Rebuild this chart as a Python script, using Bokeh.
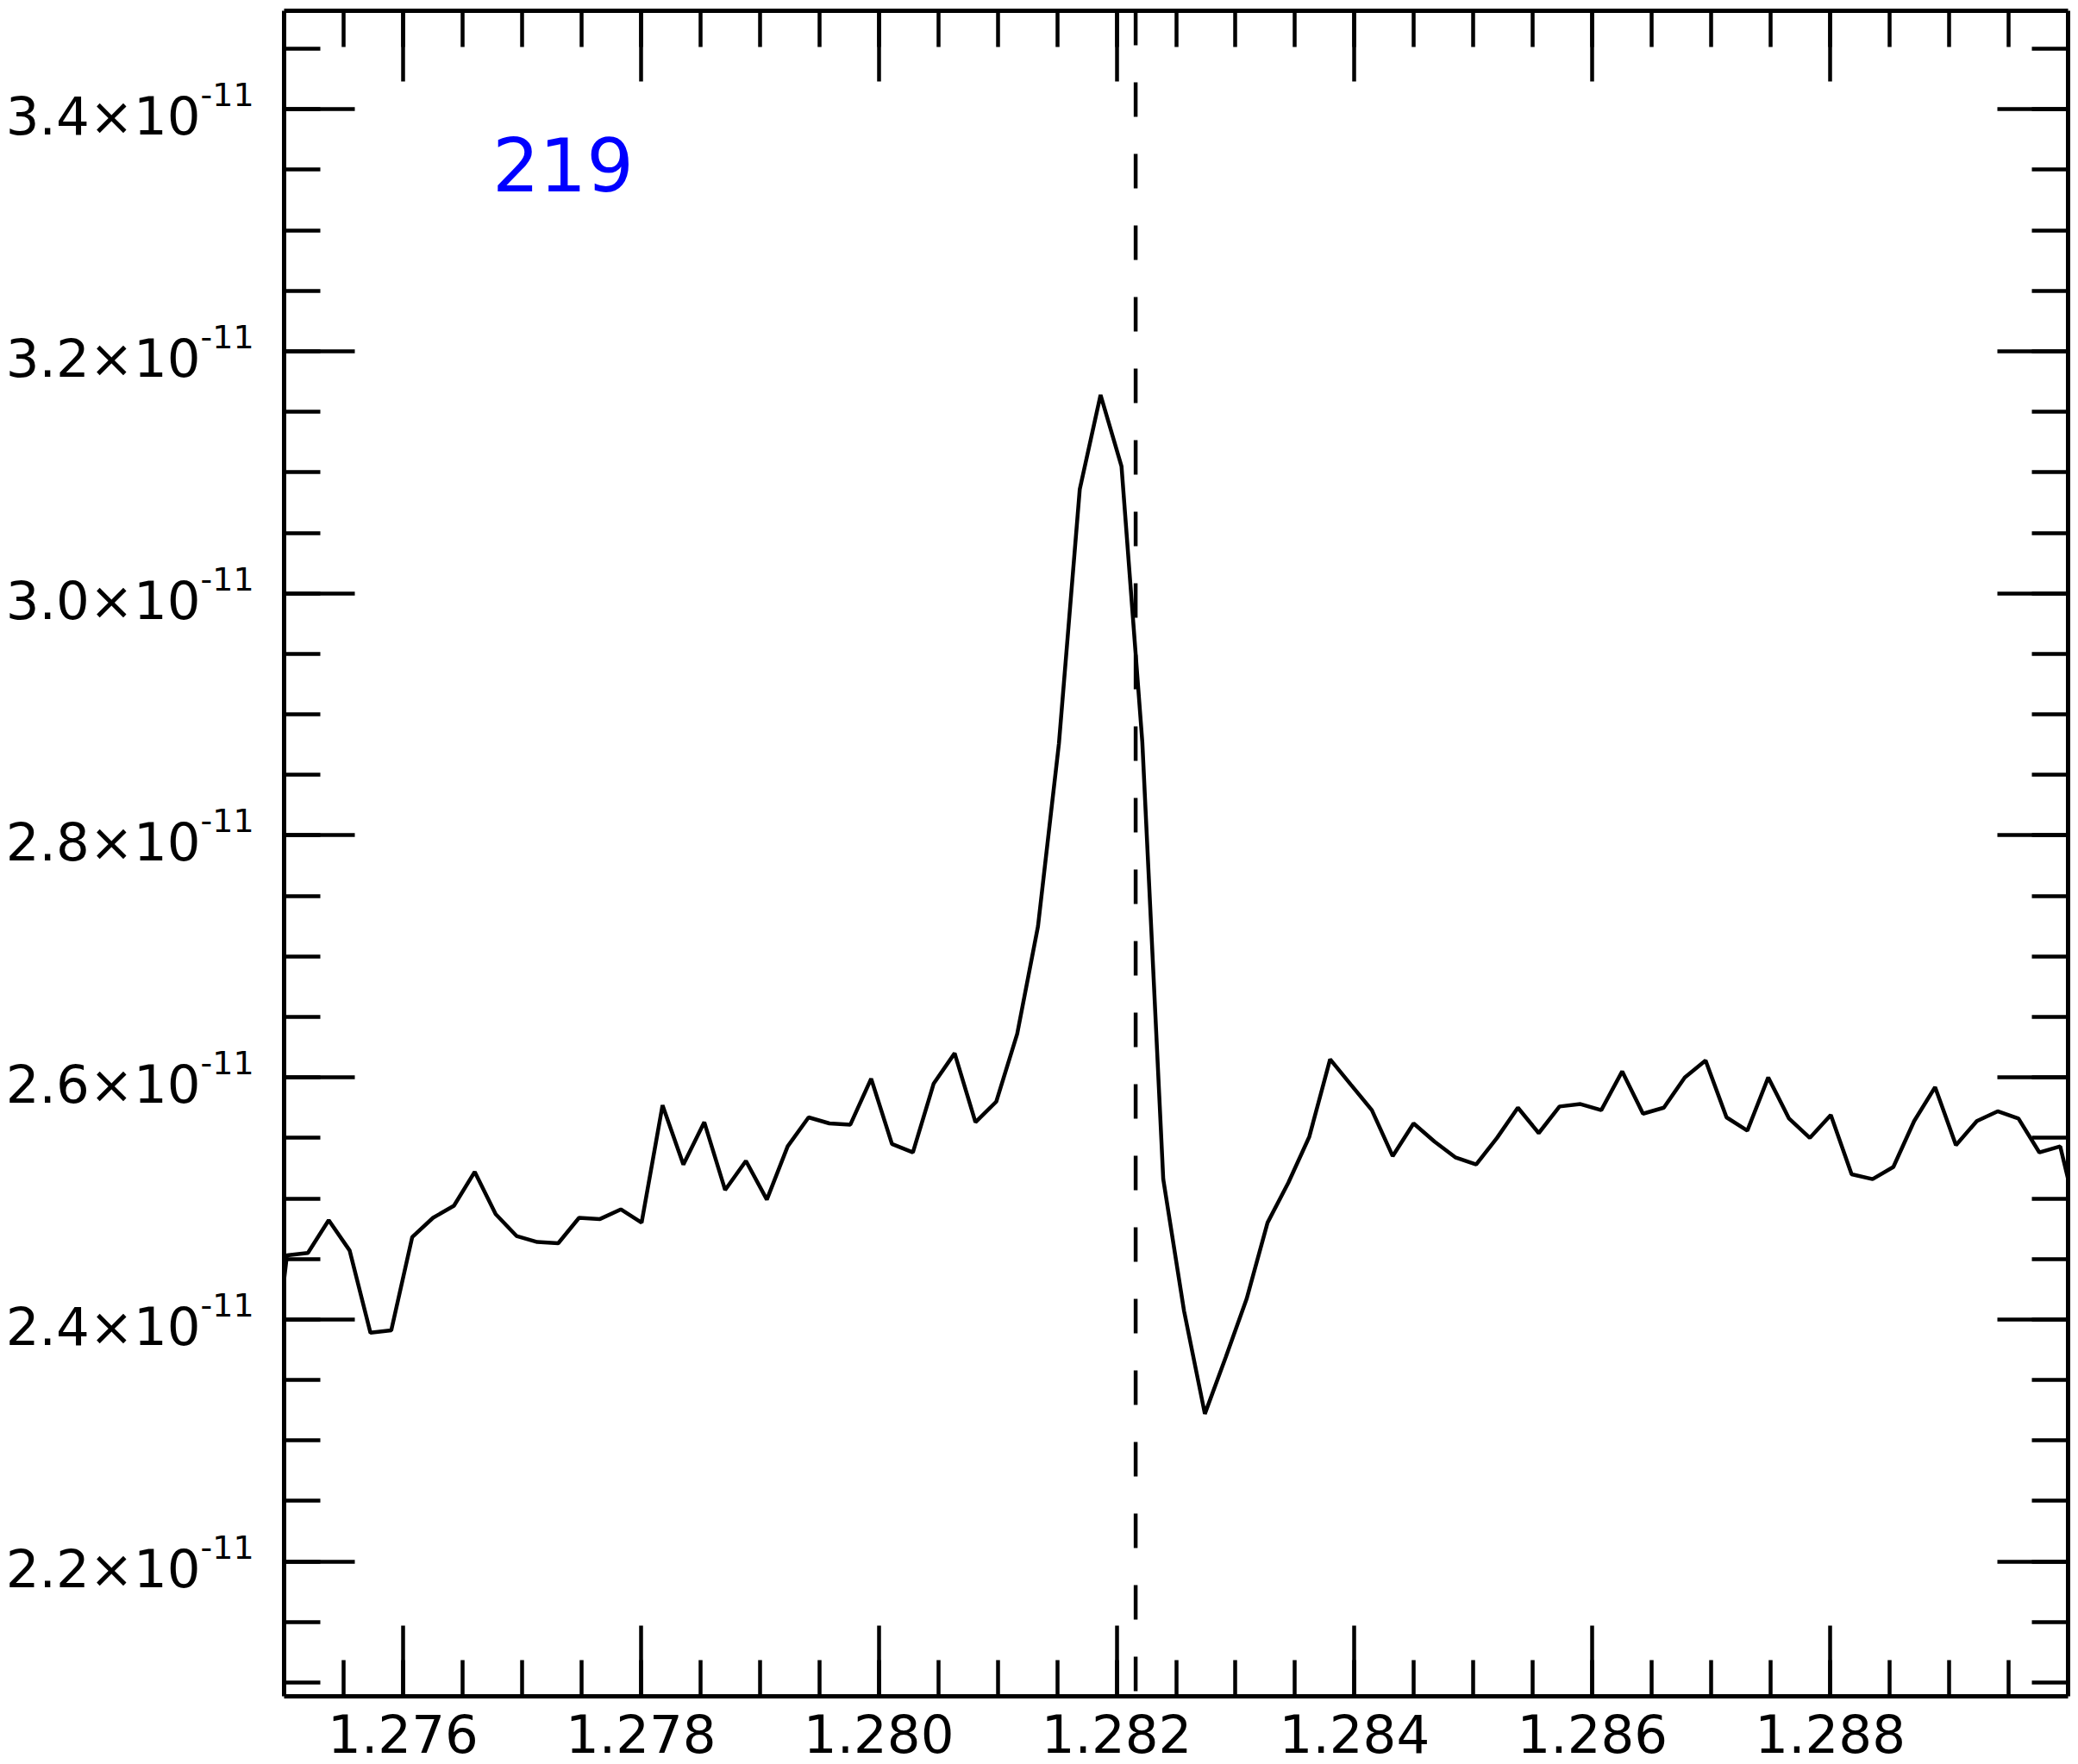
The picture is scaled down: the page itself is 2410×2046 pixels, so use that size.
from bokeh.plotting import figure
from bokeh.models import FixedTicker, LinearAxis, Span, Range1d
from bokeh.layouts import row, column
from bokeh.core.properties import value
from bokeh.embed import file_html
from bokeh.resources import INLINE

# ---------------- data ----------------
wavelength_um = [
    1.274849, 1.275024, 1.275200, 1.275375, 1.275551, 1.275726, 1.275901, 1.276077,
    1.276252, 1.276428, 1.276603, 1.276779, 1.276954, 1.277129, 1.277305, 1.277480,
    1.277656, 1.277831, 1.278006, 1.278182, 1.278357, 1.278533, 1.278708, 1.278883,
    1.279059, 1.279234, 1.279410, 1.279585, 1.279761, 1.279936, 1.280111, 1.280287,
    1.280462, 1.280638, 1.280813, 1.280988, 1.281164, 1.281339, 1.281515, 1.281690,
    1.281865, 1.282041, 1.282216, 1.282392, 1.282567, 1.282742, 1.282918, 1.283093,
    1.283269, 1.283444, 1.283620, 1.283795, 1.283970, 1.284146, 1.284321, 1.284497,
    1.284672, 1.284847, 1.285023, 1.285198, 1.285374, 1.285549, 1.285724, 1.285900,
    1.286075, 1.286251, 1.286426, 1.286601, 1.286777, 1.286952, 1.287128, 1.287303,
    1.287479, 1.287654, 1.287829, 1.288005, 1.288180, 1.288356, 1.288531, 1.288706,
    1.288882, 1.289057, 1.289233, 1.289408, 1.289583, 1.289759, 1.289934, 1.290110,
]
# flux in units of 1e-11
flux_e11 = [
    2.307, 2.453, 2.455, 2.482, 2.457, 2.389, 2.391, 2.468,
    2.484, 2.494, 2.522, 2.487, 2.469, 2.464, 2.463, 2.484,
    2.483, 2.491, 2.480, 2.577, 2.528, 2.563, 2.507, 2.531,
    2.499, 2.543, 2.567, 2.562, 2.561, 2.599, 2.545, 2.538,
    2.595, 2.620, 2.563, 2.580, 2.636, 2.725, 2.876, 3.086,
    3.164, 3.105, 2.877, 2.516, 2.407, 2.322, 2.369, 2.417,
    2.480, 2.513, 2.551, 2.615, 2.594, 2.573, 2.535, 2.562,
    2.547, 2.534, 2.528, 2.550, 2.575, 2.554, 2.576, 2.578,
    2.573, 2.605, 2.570, 2.575, 2.600, 2.614, 2.567, 2.556,
    2.600, 2.566, 2.550, 2.569, 2.520, 2.516, 2.526, 2.564,
    2.592, 2.544, 2.564, 2.572, 2.566, 2.538, 2.543, 2.471,
]
SCALE = 1e-11
flux = [v * SCALE for v in flux_e11]

x_major = [1.276, 1.278, 1.280, 1.282, 1.284, 1.286, 1.288]
x_tick_labels = ["1.276", "1.278", "1.280", "1.282", "1.284", "1.286", "1.288"]
x_minor = [1.2755, 1.2760, 1.2765, 1.2770, 1.2775, 1.2780, 1.2785, 1.2790, 1.2795,
           1.2800, 1.2805, 1.2810, 1.2815, 1.2820, 1.2825, 1.2830, 1.2835, 1.2840,
           1.2845, 1.2850, 1.2855, 1.2860, 1.2865, 1.2870, 1.2875, 1.2880, 1.2885,
           1.2890, 1.2895]
y_major_e11 = [2.2, 2.4, 2.6, 2.8, 3.0, 3.2, 3.4]
y_tick_mantissa = ["2.2", "2.4", "2.6", "2.8", "3.0", "3.2", "3.4"]
y_tick_exponent = "-11"
y_minor_e11 = [2.10, 2.15, 2.20, 2.25, 2.30, 2.35, 2.40, 2.45, 2.50, 2.55, 2.60, 2.65,
               2.70, 2.75, 2.80, 2.85, 2.90, 2.95, 3.00, 3.05, 3.10, 3.15, 3.20, 3.25,
               3.30, 3.35, 3.40, 3.45]

line_center_um = 1.28216
annotation_text = "219"
annotation_x = 1.27675
annotation_y_e11 = 3.331

x_range = (1.275, 1.290)
y_range_e11 = (2.0886, 3.4814)

FONT = "DejaVu Sans"

# ---------------- layout sizes (pixels) ----------------
LEFT_W = 320          # width of the y-label strip
MAIN_W = 2082         # main plot width
MAIN_H = 1970         # main plot height
BOTTOM_H = 76         # x-label strip height
TOP_B, BOT_B = 12, 3
LEFT_B, RIGHT_B = 9, 4

# ---------------- main figure ----------------
p = figure(
    width=MAIN_W, height=MAIN_H,
    x_range=Range1d(*x_range),
    y_range=Range1d(y_range_e11[0] * SCALE, y_range_e11[1] * SCALE),
    output_backend="svg", toolbar_location=None,
    x_axis_location=None, y_axis_location=None,
    min_border_left=LEFT_B, min_border_right=RIGHT_B,
    min_border_top=TOP_B, min_border_bottom=BOT_B,
)
p.outline_line_color = None
p.grid.visible = False
p.background_fill_color = "white"
p.border_fill_color = "white"

xt = FixedTicker(ticks=x_major, minor_ticks=x_minor)
yt = FixedTicker(ticks=[v * SCALE for v in y_major_e11],
                 minor_ticks=[v * SCALE for v in y_minor_e11])


def make_axis(ticker):
    ax = LinearAxis(ticker=ticker)
    ax.axis_line_width = 5
    ax.axis_line_color = "black"
    ax.major_tick_in = 82
    ax.major_tick_out = 0
    ax.minor_tick_in = 42
    ax.minor_tick_out = 0
    ax.major_tick_line_width = 4.5
    ax.minor_tick_line_width = 4.5
    ax.major_tick_line_color = "black"
    ax.minor_tick_line_color = "black"
    ax.major_label_text_font_size = "0px"
    ax.major_label_standoff = 0
    ax.major_label_overrides = {t: "" for t in ticker.ticks}
    return ax


p.add_layout(make_axis(xt), "below")
p.add_layout(make_axis(xt), "above")
p.add_layout(make_axis(yt), "left")
p.add_layout(make_axis(yt), "right")

# spectrum
p.line(wavelength_um, flux, line_color="black", line_width=4.5)

# line centre marker
p.add_layout(Span(location=line_center_um, dimension="height", line_color="black",
                  line_width=4.5, line_dash="40 43"))

# annotation
p.text(x=[annotation_x], y=[annotation_y_e11 * SCALE], text=[annotation_text],
       text_color="#0000ff", text_font=value(FONT), text_font_size=value("86px"),
       text_align="left", text_baseline="alphabetic", y_offset=-33)

# ---------------- y tick labels strip (shares y range) ----------------
left = figure(
    width=LEFT_W, height=MAIN_H,
    x_range=Range1d(0, LEFT_W), y_range=p.y_range,
    output_backend="svg", toolbar_location=None,
    x_axis_location=None, y_axis_location=None,
    min_border_left=0, min_border_right=0,
    min_border_top=TOP_B, min_border_bottom=BOT_B,
)
left.outline_line_color = None
left.grid.visible = False
left.border_fill_color = "white"

n = len(y_major_e11)
left.text(x=[232] * n, y=[v * SCALE for v in y_major_e11],
          text=[m + "\u00d710" for m in y_tick_mantissa],
          text_font=value(FONT), text_font_size=value("61px"), text_color="black",
          text_align="right", text_baseline="alphabetic", y_offset=8)
left.text(x=[232] * n, y=[v * SCALE for v in y_major_e11],
          text=[y_tick_exponent] * n,
          text_font=value(FONT), text_font_size=value("38px"), text_color="black",
          text_align="left", text_baseline="alphabetic", y_offset=-17)

# ---------------- x tick labels strip (shares x range) ----------------
bottom = figure(
    width=LEFT_W + MAIN_W, height=BOTTOM_H,
    x_range=p.x_range, y_range=Range1d(0, BOTTOM_H),
    output_backend="svg", toolbar_location=None,
    x_axis_location=None, y_axis_location=None,
    min_border_left=LEFT_W + LEFT_B, min_border_right=RIGHT_B,
    min_border_top=0, min_border_bottom=0,
)
bottom.outline_line_color = None
bottom.grid.visible = False
bottom.border_fill_color = "white"
bottom.text(x=x_major, y=[BOTTOM_H - 63] * len(x_major), text=x_tick_labels,
            text_font=value(FONT), text_font_size=value("61px"), text_color="black",
            text_align="center", text_baseline="alphabetic", y_offset=-23)

layout = column(row(left, p, spacing=0), bottom, spacing=0)

open("out.html", "w").write(file_html(layout, INLINE))
